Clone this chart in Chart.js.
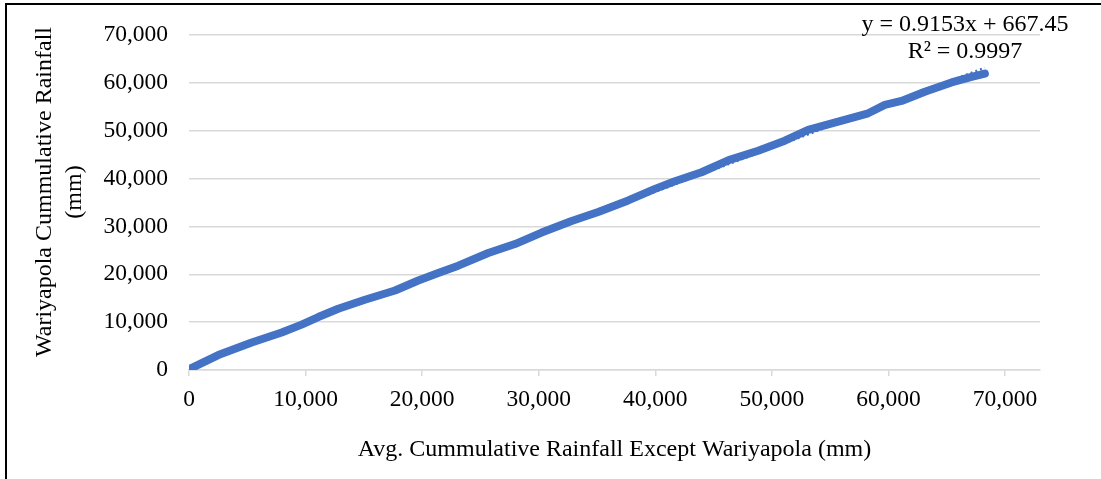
<!DOCTYPE html>
<html>
<head>
<meta charset="utf-8">
<script src="https://cdn.jsdelivr.net/npm/chart.js@4/dist/chart.umd.min.js"></script>
<style>
  html, body { margin: 0; padding: 0; background: #fff; }
  #wrap { width: 1101px; height: 479px; }
</style>
</head>
<body>
<div id="wrap"><canvas id="chart" width="1101" height="479"></canvas></div>
<script>
// Double-mass curve: cumulative rainfall at Wariyapola vs. average of the other stations (mm)
const avgCumulative = [0, 2510, 5380, 7950, 9660, 11090, 12800, 15090, 17670, 19670, 21380, 23100,
  25670, 27960, 30250, 32820, 35100, 37680, 39970, 41680, 43970, 46300, 48820, 51110, 53110,
  55690, 58260, 59690, 61120, 63120, 65410, 67130, 68270];
const wariyapolaCumulative = [150, 3120, 5750, 7830, 9490, 11070, 12810, 14680, 16620, 18700, 20290, 21810,
  24450, 26320, 28730, 31160, 33030, 35440, 37860, 39460, 41330, 43860, 45840, 47920, 50200,
  51930, 53660, 55400, 56230, 58160, 60100, 61280, 61970];

// Linear trendline reported on the chart
const trendSlope = [0.9153];
const trendIntercept = [667.45];
const trendR2 = ['0.9997'];

const xTickValues = [0, 10000, 20000, 30000, 40000, 50000, 60000, 70000];
const yTickValues = [0, 10000, 20000, 30000, 40000, 50000, 60000, 70000];

const xTitle = 'Avg. Cummulative Rainfall Except Wariyapola (mm)';
const yTitle = ['Wariyapola Cummulative Rainfall', '(mm)'];

const FONT = 'Liberation Serif, Times New Roman, serif';
const BLUE = '#4472C4';
const GRID = '#d9d9d9';

const points = avgCumulative.map((x, i) => ({ x: x, y: wariyapolaCumulative[i] }));
const xMinData = Math.min(...avgCumulative);
const xMaxData = Math.max(...avgCumulative);
const trendPoints = [xMinData, xMaxData].map(x => ({ x: x, y: trendSlope[0] * x + trendIntercept[0] }));

const fmt = v => Number(v).toLocaleString('en-US');

// Outer frame of the chart
const framePlugin = {
  id: 'frame',
  beforeDraw(chart) {
    const ctx = chart.ctx;
    ctx.save();
    ctx.fillStyle = '#fff';
    ctx.fillRect(0, 0, chart.width, chart.height);
    ctx.strokeStyle = '#000';
    ctx.lineWidth = 2;
    ctx.strokeRect(6, 4, chart.width + 20, chart.height + 20);
    ctx.restore();
  }
};

// Vertical axis title (two lines, rotated) and trendline equation label
const labelsPlugin = {
  id: 'labels',
  afterDraw(chart) {
    const ctx = chart.ctx;
    ctx.save();
    ctx.fillStyle = '#000';
    ctx.font = '24px ' + FONT;
    ctx.textAlign = 'center';
    ctx.textBaseline = 'middle';
    ctx.fillText('y = ' + trendSlope[0] + 'x + ' + trendIntercept[0], 965, 25);
    ctx.fillText('R\u00B2 = ' + trendR2[0], 965, 52);

    ctx.translate(45, 192);
    ctx.rotate(-Math.PI / 2);
    yTitle.forEach((line, i) => ctx.fillText(line, 0, i * 30));
    ctx.restore();
  }
};

new Chart(document.getElementById('chart'), {
  type: 'scatter',
  data: {
    datasets: [
      {
        label: 'Cumulative rainfall',
        data: points,
        showLine: true,
        borderColor: BLUE,
        backgroundColor: BLUE,
        borderWidth: 8,
        borderCapStyle: 'round',
        borderJoinStyle: 'round',
        pointRadius: 0,
        order: 1
      },
      {
        label: 'Linear trend',
        data: trendPoints,
        showLine: true,
        borderColor: BLUE,
        borderWidth: 2.5,
        borderDash: [2, 3],
        pointRadius: 0,
        order: 2
      }
    ]
  },
  options: {
    responsive: false,
    animation: false,
    devicePixelRatio: 1,
    layout: { padding: { left: 0, right: 61, top: 33, bottom: 0 } },
    plugins: { legend: { display: false }, tooltip: { enabled: false } },
    scales: {
      x: {
        type: 'linear',
        min: 0,
        max: 73000,
        afterBuildTicks(scale) { scale.ticks = xTickValues.map(v => ({ value: v })); },
        afterFit(scale) { scale.height = 109; },
        grid: { drawOnChartArea: false, drawTicks: true, tickLength: 6, color: GRID, lineWidth: 1.5 },
        border: { display: true, color: GRID, width: 1.5 },
        ticks: { color: '#000', font: { family: FONT, size: 23.5 }, padding: 10, maxRotation: 0, callback: v => fmt(v) },
        title: { display: true, text: xTitle, color: '#000', font: { family: FONT, size: 24 }, padding: { top: 0, bottom: 15 } }
      },
      y: {
        type: 'linear',
        min: 0,
        max: 70000,
        afterBuildTicks(scale) { scale.ticks = yTickValues.map(v => ({ value: v })); },
        afterFit(scale) { scale.width = 189; },
        grid: { drawOnChartArea: true, drawTicks: false, color: GRID, lineWidth: 1.5 },
        border: { display: false },
        ticks: { color: '#000', font: { family: FONT, size: 23.5 }, padding: 21, callback: v => fmt(v) },
        title: { display: false }
      }
    }
  },
  plugins: [framePlugin, labelsPlugin]
});
</script>
</body>
</html>
